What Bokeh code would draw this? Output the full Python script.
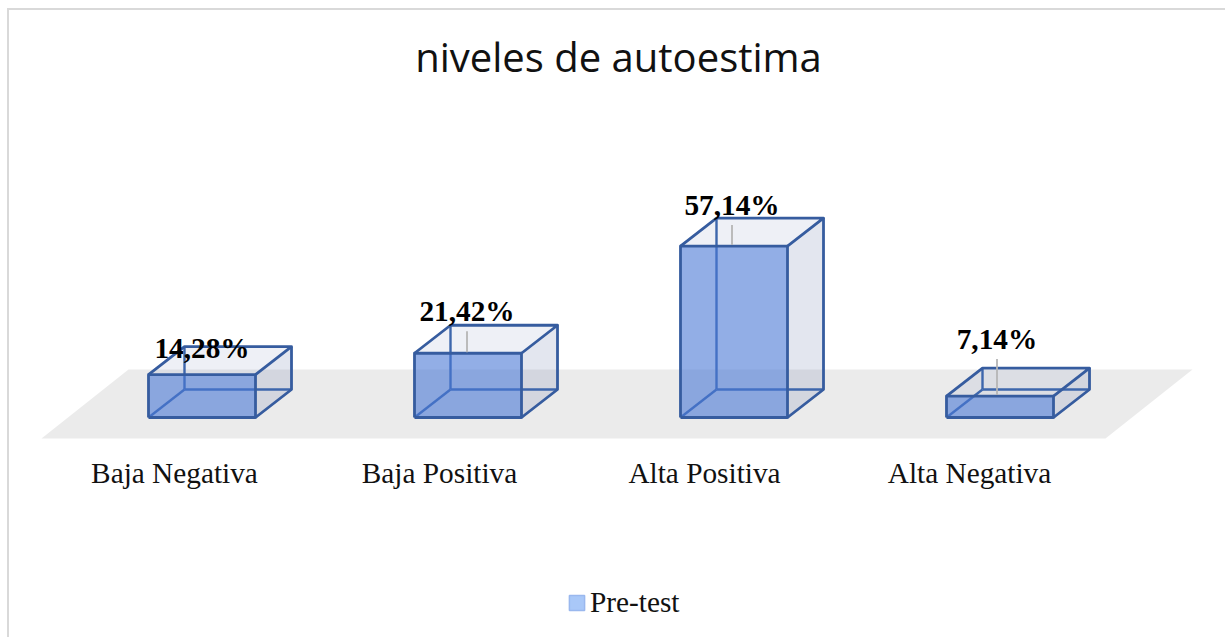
from bokeh.plotting import figure
from bokeh.models import ColumnDataSource, Range1d, FixedTicker, Legend, LegendItem
from bokeh.core.properties import value
from bokeh.embed import file_html
from bokeh.resources import INLINE

title_text = "niveles de autoestima"
series_name = "Pre-test"
categories = ["Baja Negativa", "Baja Positiva", "Alta Positiva", "Alta Negativa"]
pretest = [14.28, 21.42, 57.14, 7.14]
point_labels = ["14,28%", "21,42%", "57,14%", "7,14%"]

# Style / geometry constants
PX_X = 266.0
PX_Y = 3.0
BAR_SHIFT = 27.5 / PX_X
BAR_W = 107 / PX_X
DX = 36 / PX_X
DY = 28 / PX_Y
label_dy = [27, 42, 41.5, 57]
label_dx = [0, -1, -2, -3]
leader_px = [0, 22, 21, 37]
EDGE = "#365c9f"

FRAME_LEFT_PX = 10
FRAME_RIGHT_PX = 1228
FRAME_TOP_PX = 92
FRAME_BOTTOM_PX = 639
p = figure(width=1218, height=629, output_backend="svg", toolbar_location=None,
           y_axis_location=None,
           x_range=Range1d((FRAME_LEFT_PX - 175) / PX_X, (FRAME_RIGHT_PX - 175) / PX_X),
           y_range=Range1d((417 - FRAME_BOTTOM_PX) / PX_Y, (417 - FRAME_TOP_PX) / PX_Y),
           min_border=0, min_border_top=82, title=title_text)
p.styles = {"margin-left": "7px", "margin-top": "8px",
            "border-top": "2px solid #d9d9d9", "border-left": "2px solid #d9d9d9",
            "box-sizing": "border-box"}
p.outline_line_color = None
p.grid.visible = False
p.title.align = "center"
p.title.text_font = "Open Sans"
p.title.text_font_style = "normal"
p.title.text_font_size = "40px"
p.title.text_color = "#111111"
p.title.offset = 1
p.title.standoff = 18

ax = p.xaxis[0]
ax.fixed_location = (417 - 447) / PX_Y
tick_positions = [i * 265 / PX_X for i in range(len(categories))]
ax.ticker = FixedTicker(ticks=tick_positions)
ax.major_label_overrides = {t: c for t, c in zip(tick_positions, categories)}
ax.axis_line_color = None
ax.major_tick_line_color = None
ax.minor_tick_line_color = None
ax.major_label_text_font = "Liberation Serif"
ax.major_label_text_font_size = "29.3px"
ax.major_label_text_color = "#111111"
ax.major_label_standoff = 3

# floor
n = len(categories)
p.patch([-0.5, n - 0.5, n - 0.5 + 87 / PX_X, -0.5 + 87 / PX_X],
        [-7, -7, 16, 16], fill_color="#ebebeb", line_color=None)

left = [i + BAR_SHIFT - BAR_W / 2 for i in range(n)]
right = [l + BAR_W for l in left]

# faces
side_xs = [[r, r + DX, r + DX, r] for r in right]
side_ys = [[0, DY, v + DY, v] for v in pretest]
top_xs = [[l, r, r + DX, l + DX] for l, r in zip(left, right)]
top_ys = [[v, v, v + DY, v + DY] for v in pretest]
p.patches(side_xs, side_ys, fill_color="#7382af", fill_alpha=0.20, line_color=None)
p.patches(top_xs, top_ys, fill_color="#5569a5", fill_alpha=0.10, line_color=None)

# hidden edges
hx = []
hy = []
for l, r, v in zip(left, right, pretest):
    hx += [[l + DX, l + DX], [l + DX, r + DX], [l, l + DX]]
    hy += [[DY, v + DY], [DY, DY], [0, DY]]
p.multi_line(hx, hy, line_color="#3d66ac", line_width=2.4)

# front face
front = ColumnDataSource(dict(x=[i + BAR_SHIFT for i in range(n)], top=pretest, bottom=[0] * n))
p.vbar(x="x", top="top", bottom="bottom", width=BAR_W, source=front,
       fill_color="#4978d5", fill_alpha=0.6, line_color=None)

# visible edges
ex = []
ey = []
for l, r, v in zip(left, right, pretest):
    ex += [[l, r, r, l, l], [l, l + DX, r + DX, r], [r, r + DX, r + DX]]
    ey += [[0, 0, v, v, 0], [v, v + DY, v + DY, v], [0, DY, v + DY]]
p.multi_line(ex, ey, line_color=EDGE, line_width=2.8, line_join="round")

# leader lines
lead = [(i + BAR_SHIFT + dx / PX_X, v, px)
        for i, (dx, v, px) in enumerate(zip(label_dx, pretest, leader_px)) if px]
p.segment(x0=[c for c, _, _ in lead], y0=[v + 1 / PX_Y for _, v, _ in lead],
          x1=[c for c, _, _ in lead], y1=[v + px / PX_Y for _, v, px in lead],
          line_color="#b5b5b5", line_width=1.8)

# data labels
lab = ColumnDataSource(dict(x=[i + BAR_SHIFT + dx / PX_X for i, dx in enumerate(label_dx)],
                            y=pretest, t=point_labels, off=[-d for d in label_dy]))
p.text(x="x", y="y", text="t", y_offset="off", source=lab, text_align="center",
       text_baseline="middle", text_font=value("Liberation Serif"),
       text_font_style="bold", text_font_size="29.3px", text_color="#000000")

# legend
swatch = p.vbar(x=[float("nan")], top=[0], width=0.1, fill_color="#a9c8f8",
                line_color="#9ab8ee", line_width=1.5)
legend = Legend(items=[LegendItem(label=series_name, renderers=[swatch])],
                orientation="horizontal", location=(558, 20), border_line_color=None,
                background_fill_color=None, glyph_width=19, glyph_height=19, label_standoff=4,
                label_text_font="Liberation Serif", label_text_font_size="29.3px",
                label_text_color="#111111", margin=0, padding=0, spacing=0)
p.add_layout(legend)

open("out.html", "w").write(file_html(p, INLINE))
